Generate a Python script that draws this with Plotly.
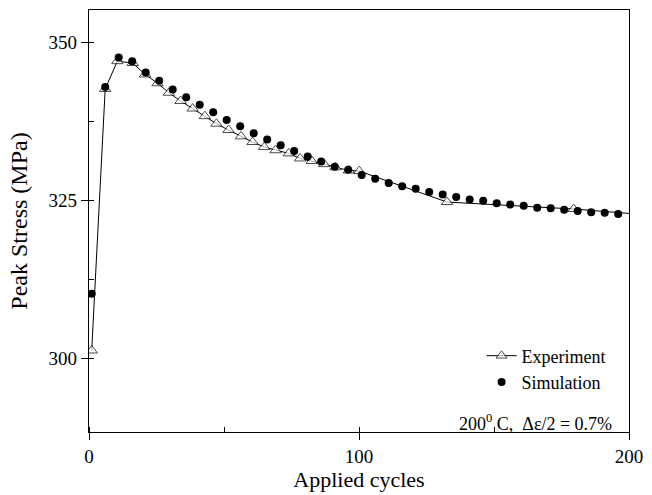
import plotly.graph_objects as go

# Experiment (open triangles, solid line)
exp_cycles = [1, 6, 10.5, 16.2, 20.8, 25.4, 29.6, 33.9, 38.4, 42.9, 47.2, 51.7, 56.3, 60.6,
              64.9, 69.1, 74.0, 78.2, 82.5, 87.1, 91.3, 96.2, 100.1, 132.6, 179.5, 200]
exp_stress = [301.2, 342.6, 347.0, 346.7, 344.9, 343.5, 342.0, 340.7, 339.5, 338.3, 337.1,
              336.1, 335.1, 334.2, 333.4, 332.9, 332.4, 331.6, 331.2, 330.7, 330.2, 329.7,
              329.6, 324.7, 323.6, 322.9]

# Simulation (filled circles)
sim_cycles = [1, 6, 11, 16, 21, 26, 31, 36, 41, 46, 51, 56, 61, 66, 71, 76, 81, 86, 91, 96,
              101, 106, 111, 116, 121, 126, 131, 136, 141, 146, 151, 156, 161, 166, 171, 176,
              181, 186, 191, 196]
sim_stress = [310.2, 342.9, 347.6, 347.0, 345.2, 343.9, 342.5, 341.3, 340.1, 338.9, 337.7,
              336.7, 335.6, 334.6, 333.7, 332.8, 331.9, 331.1, 330.3, 329.8, 329.0, 328.4,
              327.7, 327.2, 326.8, 326.3, 325.9, 325.5, 325.1, 324.9, 324.5, 324.3, 324.1,
              323.8, 323.7, 323.5, 323.3, 323.1, 323.0, 322.8]

x_ticks = [0, 100, 200]
y_ticks = [300, 325, 350]

FONT = "Liberation Serif"

fig = go.Figure()

exp_sizes = [10] * (len(exp_cycles) - 1) + [0]
fig.add_trace(go.Scatter(
    x=exp_cycles, y=exp_stress, mode="lines+markers", name="Experiment",
    line=dict(color="black", width=1),
    marker=dict(symbol="triangle-up", size=exp_sizes, color="white",
                line=dict(color="black", width=1)),
))
fig.add_trace(go.Scatter(
    x=sim_cycles, y=sim_stress, mode="markers", name="Simulation",
    marker=dict(symbol="circle", size=8, color="black"),
))

axis_common = dict(
    showline=True, linecolor="black", linewidth=1.3, mirror=True,
    ticks="outside", ticklen=7, tickwidth=1.3, tickcolor="black",
    showgrid=False, zeroline=False, ticklabeloverflow="allow",
    tickfont=dict(family=FONT, size=19, color="black"),
)

fig.update_xaxes(
    range=[0, 200], tickvals=x_ticks, ticktext=[str(v) for v in x_ticks],
    title=dict(text="Applied cycles", font=dict(family=FONT, size=22, color="black"), standoff=4),
    minor=dict(dtick=50, tick0=0, ticks="inside", ticklen=5, tickwidth=1.3, tickcolor="black"),
    **axis_common,
)
fig.update_yaxes(
    range=[288.3, 355.1], tickvals=y_ticks, ticktext=[str(v) for v in y_ticks],
    title=dict(text="Peak Stress (MPa)", font=dict(family=FONT, size=24, color="black"), standoff=14),
    minor=dict(dtick=12.5, tick0=0, ticks="inside", ticklen=5, tickwidth=1.3, tickcolor="black"),
    **axis_common,
)

fig.add_annotation(
    x=0.973, y=0.023, xref="paper", yref="paper", xanchor="right", yanchor="middle",
    text="200<sup>0</sup>&nbsp;C,&nbsp;&nbsp;\u0394\u03b5/2 = 0.7%", showarrow=False,
    font=dict(family=FONT, size=18, color="black"),
)

fig.update_layout(
    width=652, height=495,
    margin=dict(l=89, r=11, t=9, b=58),
    plot_bgcolor="white", paper_bgcolor="white",
    font=dict(family=FONT, color="black"),
    legend=dict(x=0.727, y=0.224, xanchor="left", yanchor="top",
                bgcolor="rgba(0,0,0,0)", font=dict(family=FONT, size=18, color="black")),
)

fig.write_html("out.html")
